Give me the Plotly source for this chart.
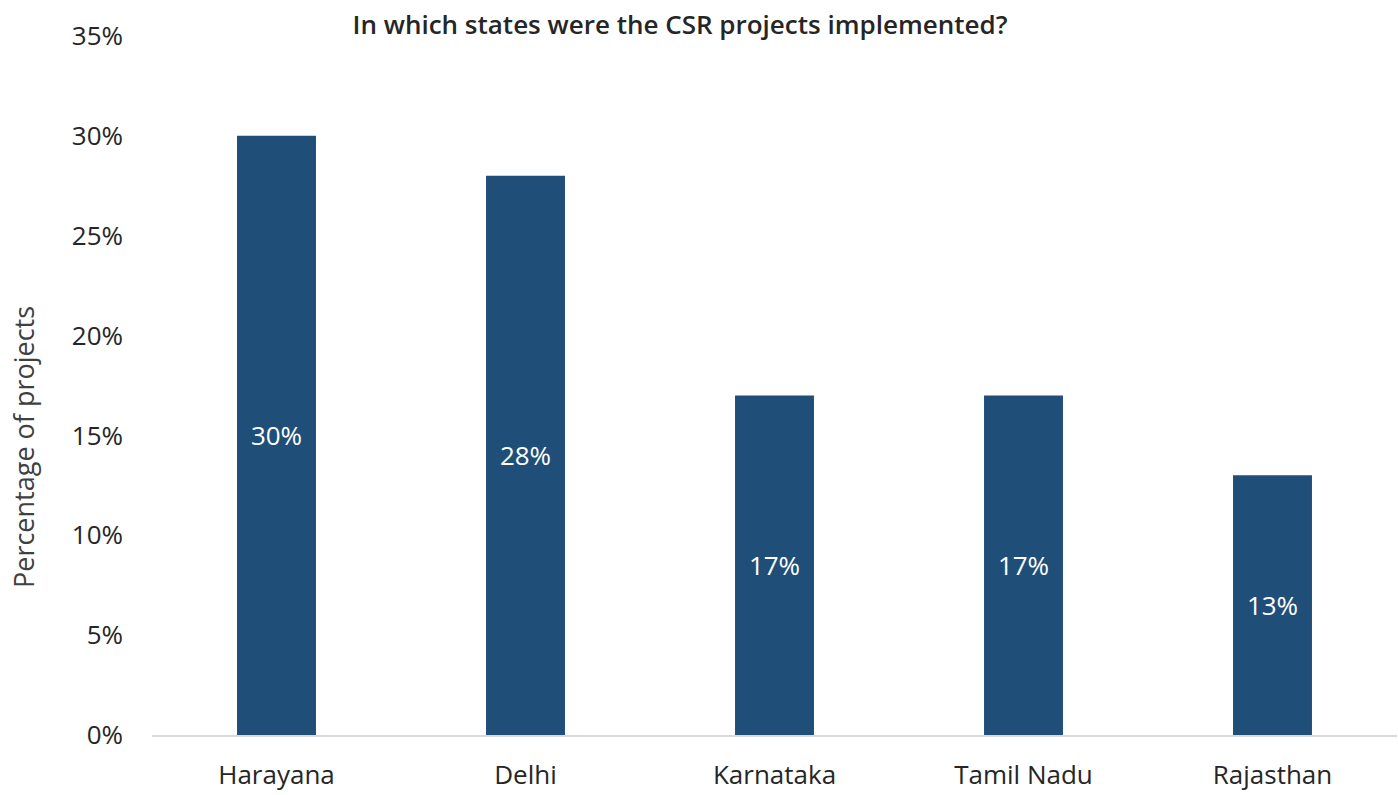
import plotly.graph_objects as go

# States and share of CSR projects (percent)
states = ["Harayana", "Delhi", "Karnataka", "Tamil Nadu", "Rajasthan"]
share_pct = [30, 28, 17, 17, 13]
y_ticks = [0, 5, 10, 15, 20, 25, 30, 35]
y_tick_labels = [f"{v}%" for v in y_ticks]

BAR_COLOR = "#1F4E79"
FONT = "Open Sans"
TEXT_SIZE = 26

fig = go.Figure(
    go.Bar(
        x=states,
        y=share_pct,
        marker=dict(color=BAR_COLOR, line=dict(width=0)),
        text=[f"{v}%" for v in share_pct],
        textposition="inside",
        insidetextanchor="middle",
        textangle=0,
        textfont=dict(family=FONT, size=TEXT_SIZE, color="white"),
        hoverinfo="skip",
    )
)

fig.update_layout(
    width=1398,
    height=795,
    margin=dict(l=152, r=1, t=36, b=60),
    paper_bgcolor="white",
    plot_bgcolor="white",
    bargap=0.683,
    showlegend=False,
    font=dict(family=FONT, color="#404040"),
    title=dict(
        text="In which states were the CSR projects implemented?",
        font=dict(family=FONT, size=26, color="#262626", weight=600),
        x=680 / 1398,
        xanchor="center",
        xref="container",
        y=1 - 25 / 795,
        yanchor="middle",
        yref="container",
    ),
    uniformtext=dict(minsize=8, mode="show"),
)

fig.update_xaxes(
    showline=True,
    linecolor="#D9D9D9",
    linewidth=2,
    showgrid=False,
    ticks="",
    ticklabelstandoff=16,
    tickfont=dict(family=FONT, size=TEXT_SIZE, color="#262626"),
)

fig.update_yaxes(
    range=[0, 35],
    tickvals=y_ticks,
    ticktext=y_tick_labels,
    showgrid=False,
    zeroline=False,
    showline=False,
    ticks="",
    ticklabelstandoff=28,
    tickfont=dict(family=FONT, size=TEXT_SIZE, color="#262626"),
)

# Vertical axis caption
fig.add_annotation(
    text="Percentage of projects",
    textangle=-90,
    xref="paper",
    yref="paper",
    x=(23 - 152) / 1245,
    y=(735 - 447) / 699,
    xanchor="center",
    yanchor="middle",
    showarrow=False,
    font=dict(family=FONT, size=27, color="#404040"),
)

fig.write_html("out.html")
